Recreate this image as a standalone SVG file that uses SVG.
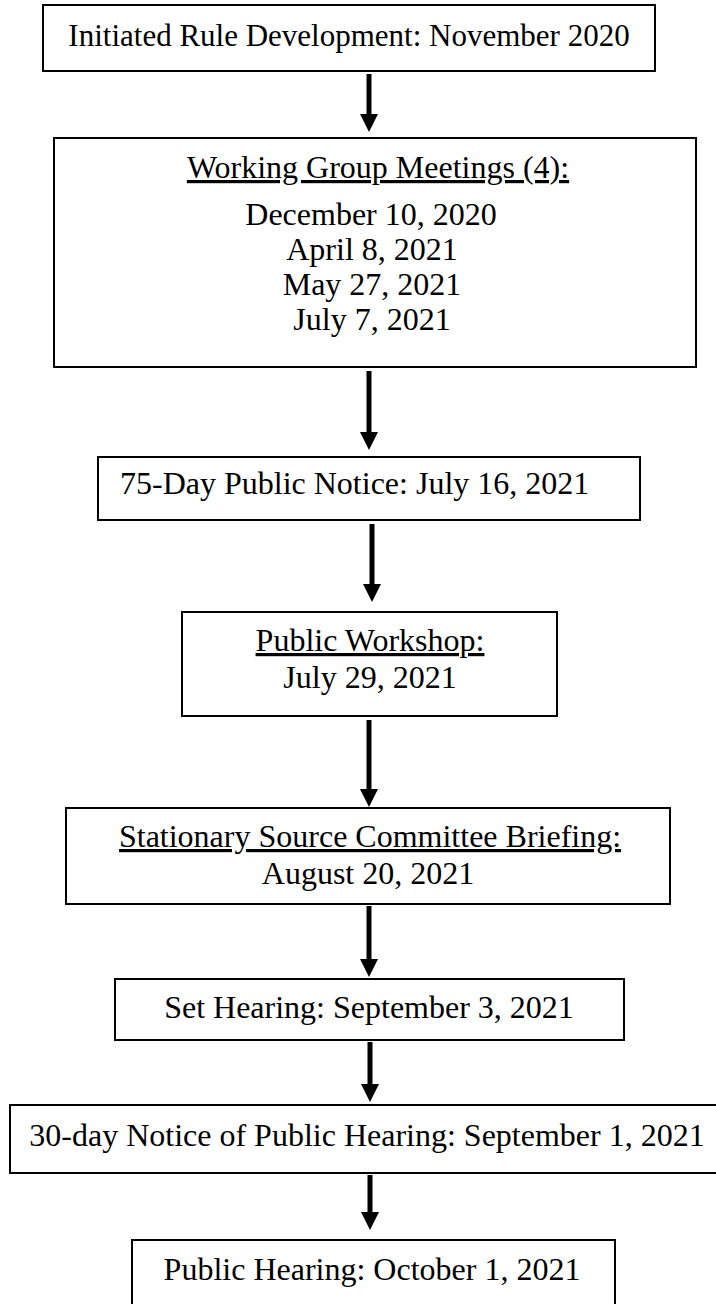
<svg xmlns="http://www.w3.org/2000/svg" width="716" height="1304" viewBox="0 0 716 1304">
<defs>
<style>
.box{fill:#fff;stroke:#000;stroke-width:2}
.t{font-family:"Liberation Serif","Times New Roman",serif;font-size:32px;fill:#000;text-anchor:middle}
.tl{font-family:"Liberation Serif","Times New Roman",serif;font-size:32px;fill:#000}
.u{text-decoration:underline}
.conn{stroke:#000;stroke-width:5;fill:none;marker-end:url(#ah)}
</style>
<marker id="ah" markerWidth="3.6" markerHeight="3.6" refX="0.4" refY="1.8" orient="auto" markerUnits="strokeWidth" viewBox="0 0 3.6 3.6">
<path d="M0,0 L3.6,1.8 L0,3.6 Z" fill="#000"/>
</marker>
</defs>
<rect width="716" height="1304" fill="#fff"/>
<g id="connectors">
<line class="conn" x1="369" y1="74" x2="369" y2="116"/>
<line class="conn" x1="369" y1="371" x2="369" y2="434"/>
<line class="conn" x1="372" y1="524" x2="372" y2="586"/>
<line class="conn" x1="369" y1="720" x2="369" y2="791"/>
<line class="conn" x1="369" y1="906" x2="369" y2="961"/>
<line class="conn" x1="370" y1="1042" x2="370" y2="1086"/>
<line class="conn" x1="370" y1="1175" x2="370" y2="1214"/>
</g>
<g id="n1">
<rect class="box" x="43" y="5" width="612" height="66"/>
<text class="t" x="349" y="46" style="font-size:31px">Initiated Rule Development: November 2020</text>
</g>
<g id="n2">
<rect class="box" x="54" y="138" width="642" height="229"/>
<text class="t u" x="378" y="178">Working Group Meetings (4):</text>
<text class="t" x="371" y="225">December 10, 2020</text>
<text class="t" x="372" y="260">April 8, 2021</text>
<text class="t" x="372" y="295">May 27, 2021</text>
<text class="t" x="372" y="330">July 7, 2021</text>
</g>
<g id="n3">
<rect class="box" x="98" y="457" width="542" height="63"/>
<text class="tl" x="120" y="494">75-Day Public Notice: July 16, 2021</text>
</g>
<g id="n4">
<rect class="box" x="182" y="612" width="375" height="104"/>
<text class="t u" x="370" y="651">Public Workshop:</text>
<text class="t" x="370" y="688">July 29, 2021</text>
</g>
<g id="n5">
<rect class="box" x="66" y="808" width="604" height="96"/>
<text class="t u" x="370" y="847">Stationary Source Committee Briefing:</text>
<text class="t" x="368" y="884">August 20, 2021</text>
</g>
<g id="n6">
<rect class="box" x="115" y="979" width="509" height="61"/>
<text class="t" x="369" y="1018">Set Hearing: September 3, 2021</text>
</g>
<g id="n7">
<rect class="box" x="10" y="1105" width="710" height="68"/>
<text class="t" x="367" y="1146">30-day Notice of Public Hearing: September 1, 2021</text>
</g>
<g id="n8">
<rect class="box" x="132" y="1240" width="483" height="80"/>
<text class="t" x="372" y="1280">Public Hearing: October 1, 2021</text>
</g>
</svg>
